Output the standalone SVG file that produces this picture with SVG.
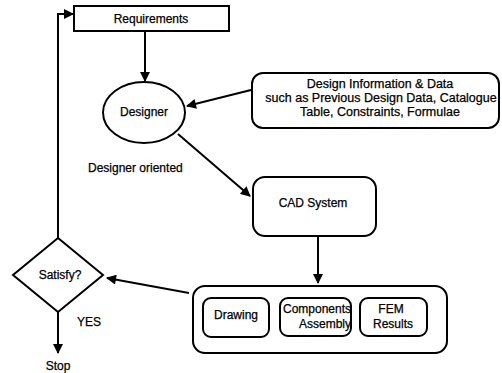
<svg xmlns="http://www.w3.org/2000/svg" width="502" height="373" viewBox="0 0 502 373">
  <style>
    .box { fill: #fff; stroke: #000; stroke-width: 2; }
    .ln { fill: none; stroke: #000; stroke-width: 2; }
    text { font-family: "Liberation Sans", Arial, sans-serif; font-size: 12px; fill: #000; stroke: #000; stroke-width: 0.25; }
    .c { text-anchor: middle; }
    .info { font-size: 12.5px; }
  </style>
  <defs>
    <marker id="arr" viewBox="0 0 10 10" refX="9" refY="5" markerWidth="5.5" markerHeight="5" orient="auto" markerUnits="strokeWidth">
      <path d="M0,0 L10,5 L0,10 z" fill="#000"/>
    </marker>
  </defs>
  <rect width="502" height="373" fill="#fff"/>

  <g id="connectors">
    <line class="ln" x1="145" y1="31" x2="145" y2="81" marker-end="url(#arr)"/>
    <line class="ln" x1="251" y1="90" x2="187" y2="106" marker-end="url(#arr)"/>
    <line class="ln" x1="178" y1="134" x2="250" y2="196" marker-end="url(#arr)"/>
    <line class="ln" x1="318" y1="236" x2="318" y2="283" marker-end="url(#arr)"/>
    <line class="ln" x1="189" y1="293" x2="107" y2="278" marker-end="url(#arr)"/>
    <polyline class="ln" points="58,238 58,14 73,14" marker-end="url(#arr)"/>
    <line class="ln" x1="58" y1="312" x2="58" y2="353" marker-end="url(#arr)"/>
  </g>

  <g id="requirements">
    <rect class="box" x="74" y="6" width="155" height="25"/>
    <text class="c" x="151" y="23">Requirements</text>
  </g>

  <g id="designer">
    <ellipse class="box" cx="144" cy="112.5" rx="41" ry="30.5"/>
    <text class="c" x="144" y="116">Designer</text>
  </g>

  <g id="design-info">
    <rect class="box" x="252" y="73" width="247" height="55" rx="11"/>
    <text class="c info" x="380" y="88">Design Information &amp; Data</text>
    <text class="c info" x="381" y="102">such as Previous Design Data, Catalogue</text>
    <text class="c info" x="380" y="116">Table, Constraints, Formulae</text>
  </g>

  <g id="designer-oriented">
    <text x="88" y="172">Designer oriented</text>
  </g>

  <g id="cad-system">
    <rect class="box" x="253" y="177" width="123" height="59" rx="12"/>
    <text class="c" x="313" y="207">CAD System</text>
  </g>

  <g id="outputs">
    <rect class="box" x="193" y="286" width="254" height="67" rx="12"/>
  </g>

  <g id="drawing">
    <rect class="box" x="203" y="298" width="66" height="39" rx="8"/>
    <text class="c" x="236" y="319">Drawing</text>
  </g>

  <g id="components-assembly">
    <rect class="box" x="280" y="298" width="71" height="38" rx="8"/>
    <text x="283" y="313">Components</text>
    <text x="299" y="328">Assembly</text>
  </g>

  <g id="fem-results">
    <rect class="box" x="360" y="298" width="67" height="38" rx="8"/>
    <text class="c" x="391" y="313">FEM</text>
    <text class="c" x="393" y="328">Results</text>
  </g>

  <g id="satisfy">
    <polygon class="box" points="58,238 103,275 58,312 13,275"/>
    <text class="c" x="60" y="279">Satisfy?</text>
  </g>

  <g id="yes">
    <text x="77" y="326">YES</text>
  </g>

  <g id="stop">
    <text class="c" x="58" y="370">Stop</text>
  </g>
</svg>
